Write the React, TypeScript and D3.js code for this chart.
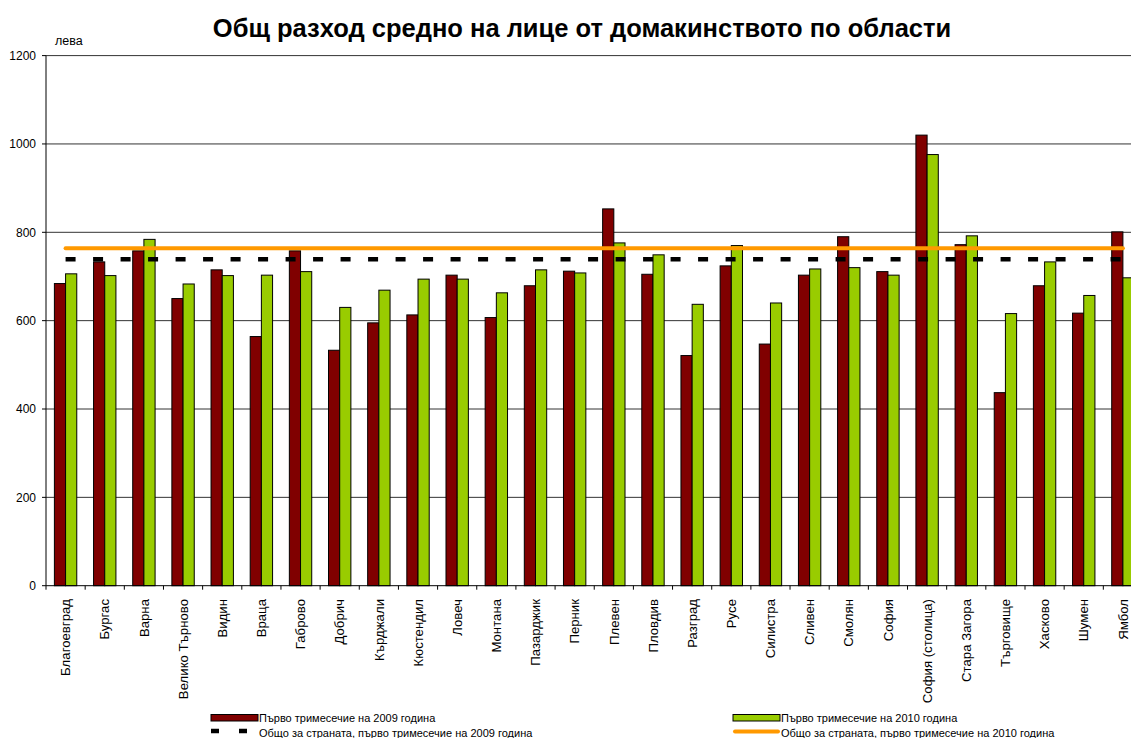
import React from 'react';
import * as d3 from 'd3';

const regions = [
  'Благоевград', 'Бургас', 'Варна', 'Велико Търново', 'Видин', 'Враца', 'Габрово',
  'Добрич', 'Кърджали', 'Кюстендил', 'Ловеч', 'Монтана', 'Пазарджик', 'Перник',
  'Плевен', 'Пловдив', 'Разград', 'Русе', 'Силистра', 'Сливен', 'Смолян', 'София',
  'София (столица)', 'Стара Загора', 'Търговище', 'Хасково', 'Шумен', 'Ямбол',
];
const q1of2009 = [684, 733, 758, 650, 715, 564, 758, 533, 595, 613, 703, 607, 679, 712,
  853, 705, 521, 724, 547, 703, 790, 711, 1020, 772, 437, 679, 617, 801];
const q1of2010 = [706, 702, 784, 683, 702, 703, 711, 630, 669, 694, 694, 663, 715, 708,
  776, 749, 637, 770, 640, 717, 720, 703, 976, 792, 616, 733, 657, 697];
const total2009 = 739;
const total2010 = 764;
const yTicks = [0, 200, 400, 600, 800, 1000, 1200];

const legendLabels = [
  'Първо тримесечие на 2009 година',
  'Първо тримесечие на 2010 година',
  'Общо за страната, първо тримесечие на 2009 година',
  'Общо за страната, първо тримесечие на 2010 година',
];

document.body.style.margin = '0';

const W = 1131, H = 738;
const left = 46, top = 55.6, bottom = 585.7;
const step = 39.16;
const font = 'Liberation Sans, Arial, sans-serif';

export default function App() {
  const x = d3.scaleBand<string>()
    .domain(regions)
    .range([left, left + step * regions.length])
    .paddingInner(0)
    .paddingOuter(0);
  const y = d3.scaleLinear().domain([0, 1200]).range([bottom, top]);
  const barW = x.bandwidth() / 3.5;
  const center = (r: string) => (x(r) as number) + x.bandwidth() / 2;
  const x0 = center(regions[0]);
  const x1 = center(regions[regions.length - 1]);

  return (
    <svg width={W} height={H} style={{ display: 'block', background: '#fff' }} fontFamily={font}>
      <text x={582} y={36.5} textAnchor="middle" fontWeight="bold" fontSize={25.5}>
        Общ разход средно на лице от домакинството по области
      </text>
      <text x={55} y={45} fontSize={12.5}>лева</text>

      {/* gridlines */}
      {yTicks.filter(t => t > 0).map(t => (
        <line key={t} x1={left} x2={W} y1={y(t)} y2={y(t)} stroke="#333" strokeWidth={1} />
      ))}

      {/* y axis */}
      <line x1={left} x2={left} y1={top} y2={bottom} stroke="#000" />
      {yTicks.map(t => (
        <g key={t}>
          <line x1={left - 4} x2={left} y1={y(t)} y2={y(t)} stroke="#000" />
          <text x={36} y={y(t) + 4.4} textAnchor="end" fontSize={12}>{t}</text>
        </g>
      ))}

      {/* bars */}
      {regions.map((r, i) => {
        const c = center(r);
        return (
          <g key={r}>
            <rect x={c - barW} y={y(q1of2009[i])} width={barW} height={bottom - y(q1of2009[i])}
              fill="#800000" stroke="#000" strokeWidth={1} />
            <rect x={c} y={y(q1of2010[i])} width={barW} height={bottom - y(q1of2010[i])}
              fill="#99CC00" stroke="#000" strokeWidth={1} />
          </g>
        );
      })}

      {/* country totals */}
      <line x1={x0} x2={x1} y1={y(total2009)} y2={y(total2009)} stroke="#000" strokeWidth={4.5}
        strokeDasharray="10 17.5" />
      <line x1={x0} x2={x1} y1={y(total2010)} y2={y(total2010)} stroke="#FF9900" strokeWidth={4}
        strokeLinecap="round" />

      {/* x axis */}
      <line x1={left} x2={W} y1={bottom} y2={bottom} stroke="#000" />
      {d3.range(regions.length + 1).map(i => (
        <line key={i} x1={left + i * step} x2={left + i * step} y1={bottom} y2={bottom + 4} stroke="#000" />
      ))}
      {regions.map(r => (
        <text key={r} transform={`translate(${center(r) + 4.7},${599}) rotate(-90)`}
          textAnchor="end" fontSize={13.2}>{r}</text>
      ))}

      {/* legend */}
      <g fontSize={11}>
        <rect x={211} y={714.5} width={47} height={6.5} fill="#800000" stroke="#000" />
        <text x={259} y={722}>{legendLabels[0]}</text>
        <rect x={733} y={714.5} width={47} height={6.5} fill="#99CC00" stroke="#000" />
        <text x={781} y={722}>{legendLabels[1]}</text>
        <line x1={211} x2={247} y1={731} y2={731} stroke="#000" strokeWidth={4.5} strokeDasharray="8 20" />
        <text x={259} y={737}>{legendLabels[2]}</text>
        <line x1={735} x2={778} y1={731.5} y2={731.5} stroke="#FF9900" strokeWidth={4} strokeLinecap="round" />
        <text x={781} y={737}>{legendLabels[3]}</text>
      </g>
    </svg>
  );
}
